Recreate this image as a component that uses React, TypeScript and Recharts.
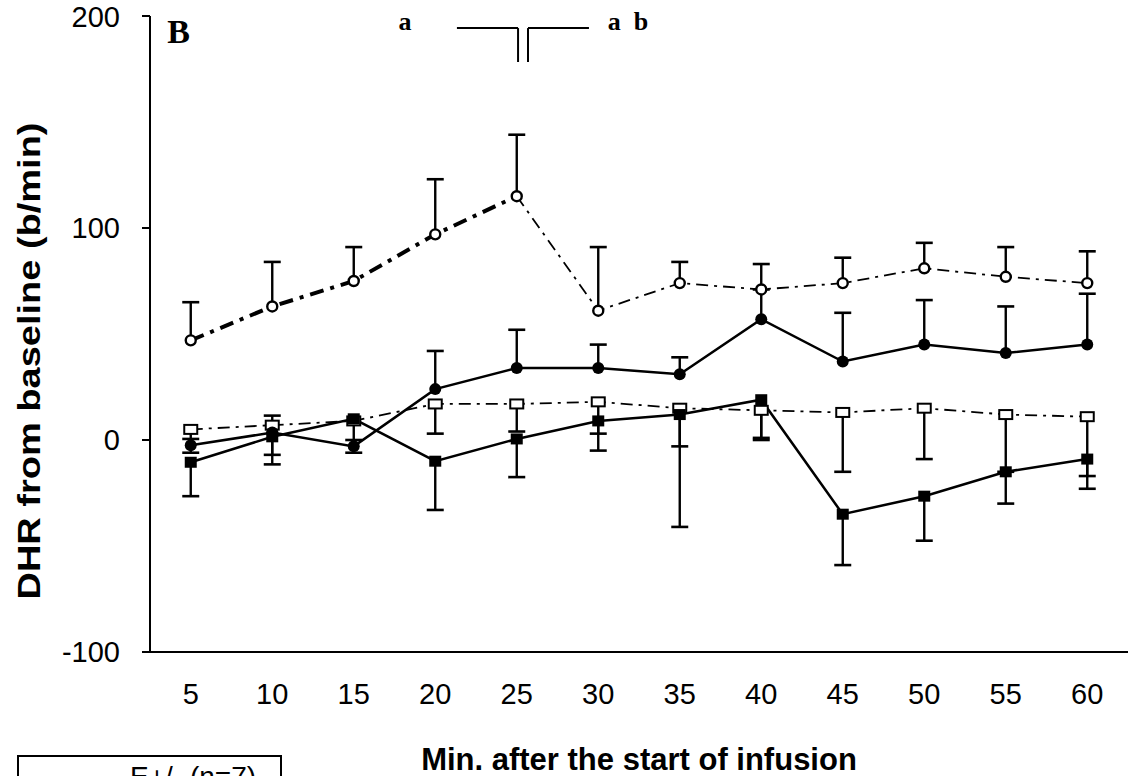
import React from "react";
import {
  ComposedChart, Line, XAxis, YAxis, ErrorBar, ReferenceLine, ReferenceDot,
} from "recharts";

const MINUTES = [5, 10, 15, 20, 25, 30, 35, 40, 45, 50, 55, 60];
const TICK_BOUNDS = [2.5, 7.5, 12.5, 17.5, 22.5, 27.5, 32.5, 37.5, 42.5, 47.5, 52.5, 57.5, 62.5];
const Y_TICKS = [-100, 0, 100, 200];

// open circles, dash-dot (heavy up to 25 min)
const OPEN_CIRCLE = [47, 63, 75, 97, 115, 61, 74, 71, 74, 81, 77, 74];
const OPEN_CIRCLE_ERR = [18, 21, 16, 26, 29, 30, 10, 12, 12, 12, 14, 15];
// filled circles, solid
const FILLED_CIRCLE = [-2.5, 3.5, -3, 24, 34, 34, 31, 57, 37, 45, 41, 45];
const FILLED_CIRCLE_ERR = [3, 8, 3, 18, 18, 11, 8, 14, 23, 21, 22, 24];
// open squares, thin dash-dot
const OPEN_SQUARE = [5, 7, 9, 17, 17, 18, 15, 14, 13, 15, 12, 11];
const OPEN_SQUARE_ERR = [11, 14, 0, 14, 13, 15, 18, 14, 28, 24, 27, 28];
// filled squares, solid
const FILLED_SQUARE = [-10.5, 1.5, 10, -10, 0.5, 9, 12, 19, -35, -26.5, -15, -9];
const FILLED_SQUARE_ERR = [16, 13, 16, 23, 18, 14, 53, 18, 24, 21, 15, 14];

const rows = MINUTES.map((min, i) => ({
  min,
  oc: OPEN_CIRCLE[i],
  ocEarly: i <= 4 ? OPEN_CIRCLE[i] : null,
  ocLate: i >= 4 ? OPEN_CIRCLE[i] : null,
  ocErr: [0, OPEN_CIRCLE_ERR[i]],
  ocCap: OPEN_CIRCLE_ERR[i] ? OPEN_CIRCLE[i] + OPEN_CIRCLE_ERR[i] : null,
  fc: FILLED_CIRCLE[i],
  fcErr: [0, FILLED_CIRCLE_ERR[i]],
  fcCap: FILLED_CIRCLE_ERR[i] ? FILLED_CIRCLE[i] + FILLED_CIRCLE_ERR[i] : null,
  os: OPEN_SQUARE[i],
  osErr: [OPEN_SQUARE_ERR[i], 0],
  osCap: OPEN_SQUARE_ERR[i] ? OPEN_SQUARE[i] - OPEN_SQUARE_ERR[i] : null,
  fs: FILLED_SQUARE[i],
  fsErr: [FILLED_SQUARE_ERR[i], 0],
  fsCap: FILLED_SQUARE_ERR[i] ? FILLED_SQUARE[i] - FILLED_SQUARE_ERR[i] : null,
}));

const SANS = "Arial, 'Liberation Sans', sans-serif";
const SERIF = "'Times New Roman', 'Liberation Serif', serif";
const INK = "#000";

const none = (key: any) => <g key={key} />;

const openCircle = (p: any) =>
  p.cx == null || p.cy == null ? none(p.index) : (
    <circle key={p.index} cx={p.cx} cy={p.cy} r={5} fill="#fff" stroke={INK} strokeWidth={2.4} />
  );

const filledCircle = (p: any) =>
  p.cx == null || p.cy == null ? none(p.index) : (
    <circle key={p.index} cx={p.cx} cy={p.cy} r={6} fill={INK} />
  );

const openSquare = (p: any) =>
  p.cx == null || p.cy == null ? none(p.index) : (
    <rect key={p.index} x={p.cx - 6.5} y={p.cy - 4.5} width={13} height={9} fill="#fff" stroke={INK} strokeWidth={2} />
  );

const filledSquare = (p: any) =>
  p.cx == null || p.cy == null ? none(p.index) : (
    <rect key={p.index} x={p.cx - 6} y={p.cy - 5.5} width={12} height={11} fill={INK} />
  );

// error bar end cap
const cap = (p: any) =>
  p.cx == null || p.cy == null ? none(p.index) : (
    <line key={p.index} x1={p.cx - 8.5} x2={p.cx + 8.5} y1={p.cy} y2={p.cy} stroke={INK} strokeWidth={2.6} />
  );

const tickStyle = { fontSize: 29, fill: INK, fontFamily: SANS };
const titleStyle = { fontSize: 31, fontWeight: 700, fill: INK, fontFamily: SANS };
const letterStyle = { fontSize: 26, fontWeight: 700, fill: INK, fontFamily: SERIF };

export default function App() {
  return (
    <div style={{ position: "absolute", left: 0, top: 0, width: 1130, height: 776, overflow: "hidden", background: "#fff", fontFamily: SANS }}>
      <ComposedChart width={1130} height={776} data={rows} margin={{ top: 16, right: 2, bottom: 0, left: 0 }}>
        <XAxis
          dataKey="min" type="number" domain={[2.5, 62.5]} ticks={TICK_BOUNDS}
          tick={false} tickSize={7} height={10}
          axisLine={{ stroke: INK, strokeWidth: 2 }} tickLine={{ stroke: INK, strokeWidth: 2 }}
        />
        <XAxis
          xAxisId="labels" dataKey="min" type="number" domain={[2.5, 62.5]} ticks={MINUTES}
          axisLine={false} tickLine={false} tickSize={0} tickMargin={21} height={114}
          tick={tickStyle}
          label={{ value: "Min. after the start of infusion", position: "insideBottom", offset: 6, style: titleStyle }}
        />
        <YAxis
          type="number" domain={[-100, 200]} ticks={Y_TICKS} width={150}
          tickSize={8} tickMargin={22} tick={tickStyle}
          axisLine={{ stroke: INK, strokeWidth: 2 }} tickLine={{ stroke: INK, strokeWidth: 2 }}
          label={{
            value: "DHR from baseline (b/min)", angle: -90, position: "center", dx: -46, dy: 27,
            textLength: 477, lengthAdjust: "spacingAndGlyphs", style: titleStyle,
          }}
        />

        {/* significance bracket at 25 min */}
        <ReferenceLine segment={[{ x: 21.33, y: 194.3 }, { x: 25.08, y: 194.3 }]} stroke={INK} strokeWidth={2} />
        <ReferenceLine segment={[{ x: 25.08, y: 194.3 }, { x: 25.08, y: 178.3 }]} stroke={INK} strokeWidth={2} />
        <ReferenceLine segment={[{ x: 25.69, y: 194.3 }, { x: 25.69, y: 178.3 }]} stroke={INK} strokeWidth={2} />
        <ReferenceLine segment={[{ x: 25.69, y: 194.3 }, { x: 29.43, y: 194.3 }]} stroke={INK} strokeWidth={2} />
        <ReferenceDot x={4.25} y={192.9} r={0} stroke="none"
          label={{ value: "B", position: "center", style: { ...letterStyle, fontSize: 34 } }} />
        <ReferenceDot x={18.15} y={197.7} r={0} stroke="none"
          label={{ value: "a", position: "center", style: letterStyle }} />
        <ReferenceDot x={31.83} y={197.7} r={0} stroke="none"
          label={{ value: "a\u00a0\u00a0b", position: "center", style: letterStyle }} />

        {/* open squares */}
        <Line dataKey="os" stroke={INK} strokeWidth={1.8} strokeDasharray="12 6 3 6" dot={false} activeDot={false} isAnimationActive={false}>
          <ErrorBar dataKey="osErr" width={0} stroke={INK} strokeWidth={2.4} />
        </Line>
        <Line dataKey="osCap" stroke="none" dot={cap} activeDot={false} isAnimationActive={false} />

        {/* filled squares */}
        <Line dataKey="fs" stroke={INK} strokeWidth={2.5} dot={false} activeDot={false} isAnimationActive={false}>
          <ErrorBar dataKey="fsErr" width={0} stroke={INK} strokeWidth={2.4} />
        </Line>
        <Line dataKey="fsCap" stroke="none" dot={cap} activeDot={false} isAnimationActive={false} />

        {/* filled circles */}
        <Line dataKey="fc" stroke={INK} strokeWidth={2.5} dot={false} activeDot={false} isAnimationActive={false}>
          <ErrorBar dataKey="fcErr" width={0} stroke={INK} strokeWidth={2.4} />
        </Line>
        <Line dataKey="fcCap" stroke="none" dot={cap} activeDot={false} isAnimationActive={false} />

        {/* open circles: heavy early segment, thin later segment */}
        <Line dataKey="ocEarly" stroke={INK} strokeWidth={4} strokeDasharray="14 7 4 7" dot={false} activeDot={false} isAnimationActive={false} />
        <Line dataKey="ocLate" stroke={INK} strokeWidth={1.8} strokeDasharray="12 6 3 6" dot={false} activeDot={false} isAnimationActive={false} />
        <Line dataKey="oc" stroke="none" dot={false} activeDot={false} isAnimationActive={false}>
          <ErrorBar dataKey="ocErr" width={0} stroke={INK} strokeWidth={2.4} />
        </Line>
        <Line dataKey="ocCap" stroke="none" dot={cap} activeDot={false} isAnimationActive={false} />

        {/* markers on top */}
        <Line dataKey="os" stroke="none" dot={openSquare} activeDot={false} isAnimationActive={false} />
        <Line dataKey="fs" stroke="none" dot={filledSquare} activeDot={false} isAnimationActive={false} />
        <Line dataKey="fc" stroke="none" dot={filledCircle} activeDot={false} isAnimationActive={false} />
        <Line dataKey="oc" stroke="none" dot={openCircle} activeDot={false} isAnimationActive={false} />
      </ComposedChart>

      <div style={{ position: "absolute", left: 17, top: 755, width: 265, height: 60, border: "2px solid #000", boxSizing: "border-box" }}>
        <span style={{ position: "absolute", left: 111, top: 6, fontSize: 28, lineHeight: "28px", whiteSpace: "pre", color: INK }}>
          E+/- (n=7)
        </span>
      </div>
    </div>
  );
}
